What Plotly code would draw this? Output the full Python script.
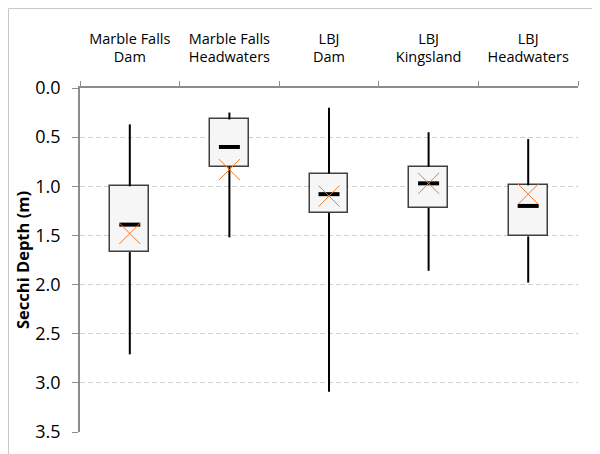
import plotly.graph_objects as go

# Secchi depth (m) per site
sites = ["Marble Falls<br>Dam", "Marble Falls<br>Headwaters", "LBJ<br>Dam",
         "LBJ<br>Kingsland", "LBJ<br>Headwaters"]
whisker_min = [0.37, 0.25, 0.20, 0.45, 0.52]
q1 = [1.00, 0.32, 0.87, 0.80, 0.99]
median = [1.39, 0.60, 1.08, 0.97, 1.20]
q3 = [1.67, 0.80, 1.27, 1.22, 1.51]
whisker_max = [2.71, 1.52, 3.09, 1.86, 1.98]
mean = [1.48, 0.83, 1.10, 0.97, 1.08]

FONT = "Open Sans"

# whiskers: upper segment min->q1, lower segment q3->max, broken with None
wx, wy = [], []
for s, lo, a, b, hi in zip(sites, whisker_min, q1, q3, whisker_max):
    wx += [s, s, None, s, s, None]
    wy += [lo, a, None, b, hi, None]

fig = go.Figure()

fig.add_trace(go.Scatter(
    x=wx, y=wy, mode="lines",
    line=dict(color="black", width=2),
    hoverinfo="skip"
))

# boxes as bars from q1 to q3
fig.add_trace(go.Bar(
    x=sites,
    y=[b - a for a, b in zip(q1, q3)],
    base=q1,
    width=0.39,
    marker=dict(color="#f6f6f6", line=dict(color="#404040", width=1.5))
))

# median dash
fig.add_trace(go.Scatter(
    x=sites, y=median, mode="markers",
    marker=dict(symbol="line-ew", size=15,
                line=dict(color="black", width=4))
))

# mean cross
fig.add_trace(go.Scatter(
    x=sites, y=mean, mode="markers",
    marker=dict(symbol="x-thin", size=21,
                line=dict(color="#ED7D31", width=1))
))

# outer chart border (only top and left fall inside the picture)
fig.add_shape(
    type="rect", xref="paper", yref="paper",
    x0=-0.1436, x1=1.2, y0=-0.2, y1=1.231,
    line=dict(color="#c8c8c8", width=1), layer="below"
)

# page adds an 8px body margin, margins below account for it
fig.update_layout(
    width=600, height=454,
    paper_bgcolor="white", plot_bgcolor="white",
    showlegend=False,
    margin=dict(l=72, r=30, t=80, b=30),
    font=dict(family=FONT, color="black"),
    bargap=0
)

fig.update_xaxes(
    side="top", type="category", automargin=False,
    tickson="boundaries", ticks="outside", ticklen=5, tickcolor="#8c8c8c",
    showline=True, linecolor="#8c8c8c", linewidth=1.5,
    showgrid=False, zeroline=False,
    tickfont=dict(family=FONT, size=14.5, color="black"),
    ticklabelstandoff=18
)

fig.update_yaxes(
    range=[3.5, 0], dtick=0.5, tickformat=".1f", automargin=False,
    ticks="outside", ticklen=6, tickcolor="#8c8c8c",
    showline=True, linecolor="#8c8c8c", linewidth=1.5,
    showgrid=True, gridcolor="#cfcfcf", griddash="5px,3px", gridwidth=1,
    zeroline=False,
    tickfont=dict(family=FONT, size=18, color="black"),
    ticklabelstandoff=8,
    title=dict(text="<b>Secchi Depth (m)</b>", font=dict(family=FONT, size=16.5),
               standoff=2)
)

fig.write_html("out.html")
